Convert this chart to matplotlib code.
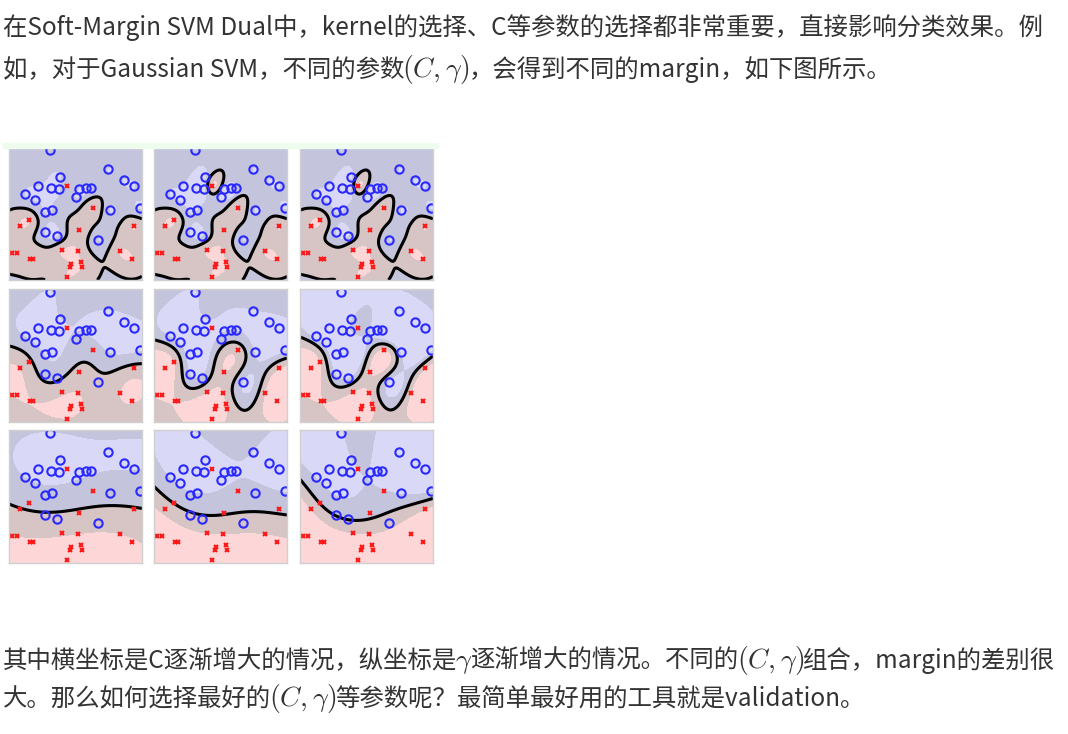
import numpy as np
import matplotlib.pyplot as plt
from matplotlib.patches import Rectangle

plt.rcParams['font.family'] = ['Noto Sans CJK SC', 'DejaVu Sans']
plt.rcParams['mathtext.fontset'] = 'cm'

# data points (same in every panel), unit square coordinates
circle_x = [0.311, 0.747, 0.386, 0.861, 0.942, 0.215, 0.318, 0.379, 0.530, 0.576, 0.616,
            0.121, 0.500, 0.192, 0.273, 0.323, 0.760, 0.985, 0.273, 0.361, 0.672]
circle_y = [0.980, 0.838, 0.775, 0.750, 0.705, 0.705, 0.693, 0.685, 0.685, 0.693, 0.695,
            0.650, 0.625, 0.600, 0.513, 0.530, 0.525, 0.538, 0.363, 0.333, 0.300]
cross_x = [0.439, 0.634, 0.154, 0.083, 0.525, 0.942, 0.025, 0.063, 0.159, 0.184, 0.396,
           0.520, 0.833, 0.924, 0.467, 0.455, 0.538, 0.551, 0.437]
cross_y = [0.705, 0.545, 0.448, 0.405, 0.375, 0.405, 0.200, 0.200, 0.158, 0.158, 0.225,
           0.220, 0.220, 0.155, 0.120, 0.100, 0.138, 0.095, 0.025]

# rows: gamma (top = largest), columns: C (left = smallest)
gammas = [100, 18, 3]
c_values = [2, 10, 100]

line1 = '在Soft-Margin SVM Dual中，kernel的选择、C等参数的选择都非常重要，直接影响分类效果。例'
line2 = '如，对于Gaussian SVM，不同的参数$(C,\\gamma)$，会得到不同的margin，如下图所示。'
line3 = '其中横坐标是C逐渐增大的情况，纵坐标是$\\gamma$逐渐增大的情况。不同的$(C,\\gamma)$组合，margin的差别很'
line4 = '大。那么如何选择最好的$(C,\\gamma)$等参数呢？最简单最好用的工具就是validation。'

X = np.column_stack([circle_x + cross_x, circle_y + cross_y])
y = np.array([1.0] * len(circle_x) + [-1.0] * len(cross_x))


def rbf(A, B, g):
    d = ((A[:, None, :] - B[None, :, :]) ** 2).sum(-1)
    return np.exp(-g * d)


def train(C, g, iters=2500):
    # dual coordinate descent, bias folded into the kernel
    Q = (rbf(X, X, g) + 1) * y[:, None] * y[None, :]
    a = np.zeros(len(y))
    for _ in range(iters):
        for i in range(len(y)):
            G = Q[i] @ a - 1
            a[i] = min(max(a[i] - G / Q[i, i], 0), C)
    return a


gx, gy = np.meshgrid(np.linspace(0, 1, 160), np.linspace(0, 1, 160))
grid = np.column_stack([gx.ravel(), gy.ravel()])

W, H = 1068, 734
fig = plt.figure(figsize=(W / 100, H / 100), dpi=100)

fig.patches.append(Rectangle((3 / W, 1 - 148 / H), 435 / W, 5 / H,
                             transform=fig.transFigure, color='#eefcee', zorder=0))

lefts = [9, 154, 300]
tops = [147, 289, 430]
size = 133
region_colors = ['#fdd7d7', '#d7c4c4', '#c4c4dc', '#d9d9f7']

for r, g in enumerate(gammas):
    for c, C in enumerate(c_values):
        a = train(C, g)
        f = ((rbf(grid, X, g) + 1) @ (a * y)).reshape(gx.shape)
        ax = fig.add_axes([lefts[c] / W, 1 - (tops[r] + size) / H, size / W, size / H])
        ax.contourf(gx, gy, f, levels=[-1e9, -1, 0, 1, 1e9], colors=region_colors)
        ax.contour(gx, gy, f, levels=[0], colors='black', linewidths=2.2)
        ax.plot(circle_x, circle_y, 'o', ms=6, mfc='none', mec='#2a2aff', mew=1.5)
        ax.plot(cross_x, cross_y, 'x', ms=3.5, color='#ff1a1a', mew=1.5)
        ax.set_xlim(0, 1)
        ax.set_ylim(0, 1)
        ax.set_xticks([])
        ax.set_yticks([])
        for s in ax.spines.values():
            s.set_color('#d0d0d0')
            s.set_linewidth(1)

renderer = fig.canvas.get_renderer()


def draw_line(s, base, fs=17.6):
    # plain text and math pieces side by side, math a little larger
    x = 3
    for k, part in enumerate(s.split('$')):
        if not part:
            continue
        if k % 2:
            t = fig.text(x / W, 1 - base / H, '$' + part + '$', fontsize=fs * 1.14,
                         color='#333333', va='baseline', ha='left')
        else:
            t = fig.text(x / W, 1 - base / H, part, fontsize=fs,
                         color='#333333', va='baseline', ha='left')
        x += t.get_window_extent(renderer).width - 2


draw_line(line1, 35)
draw_line(line2, 77)
draw_line(line3, 668)
draw_line(line4, 706)

fig.savefig('out.png', dpi=100)
